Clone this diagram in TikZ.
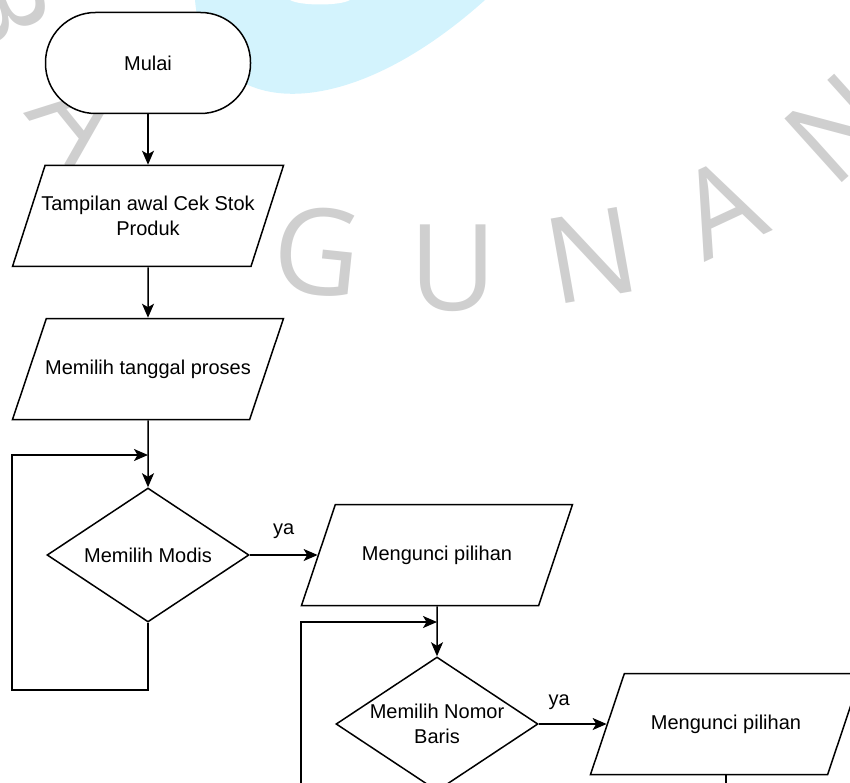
\documentclass[tikz,border=0pt]{standalone}
\usepackage{fontspec}
\setmainfont{Liberation Sans}
\newfontfamily\wmfont{Open Sans}
\usetikzlibrary{shapes.geometric, arrows.meta, positioning}
\definecolor{wmgray}{RGB}{207,207,207}
\definecolor{wmblue}{RGB}{211,243,253}

\begin{document}
\begin{tikzpicture}[x=1pt,y=-1pt,node distance=153pt,on grid,line width=1.5pt,
    font=\fontsize{20}{25}\selectfont]
    \tikzstyle{terminal}=[shape=rectangle,rounded corners=50pt,draw,fill=white,minimum width=205pt,minimum height=101pt]
    \tikzstyle{io}=[shape=trapezium,trapezium left angle=71.4,trapezium right angle=108.6,trapezium stretches body=true,draw,fill=white,minimum width=271pt,minimum height=101pt,inner xsep=-7pt,inner ysep=41pt,align=center]
    \tikzstyle{decision}=[shape=diamond,aspect=1.5,draw,fill=white,minimum width=202pt,minimum height=134pt,inner sep=0pt,align=center]
    \tikzstyle{wm}=[text=wmgray,font=\wmfont\fontsize{120}{120}\selectfont,inner sep=0pt]
    \tikzstyle{flow}=[-{Stealth[length=14pt,width=12pt,inset=3.5pt]}]

    \useasboundingbox (0,0) rectangle (850,783);
    \clip (0,0) rectangle (850,783);

    % watermark
    \fill[wmblue] (195,0) .. controls (205,120) and (340,130) .. (485,0) -- cycle;
    \fill[white] (290,0) .. controls (300,6) and (340,6) .. (350,0) -- cycle;
    \node[wm, rotate=-68] (wB) at (2,6) {B};
    \node[wm, rotate=-51] (wA1) at (81,116) {A};
    \node[wm, rotate=-6] (wG) at (317,251) {G};
    \node[wm] (wU) at (453,268) {U};
    \node[wm, rotate=10] (wN1) at (592,255) {N};
    \node[wm, rotate=25] (wA2) at (721,207) {A};
    \node[wm, rotate=42] (wN2) at (838,128) {N};

    % flowchart
    \node[terminal] (mulai) at (148,63) {Mulai};
    \node[io, inner ysep=28.5pt, below=of mulai] (tampil) {Tampilan awal Cek Stok\\Produk};
    \node[io, below=of tampil] (tanggal) {Memilih tanggal proses};
    \node[decision, below=186pt of tanggal] (modis) {Memilih Modis};
    \node[io, right=289pt of modis] (kunci1) {Mengunci pilihan};
    \node[decision, below=169pt of kunci1] (baris) {Memilih Nomor\\Baris};
    \node[io, right=289pt of baris] (kunci2) {Mengunci pilihan};

    \coordinate (j1) at (148,455);
    \coordinate (lp1) at (12,690);
    \coordinate (j2) at (437,622);
    \coordinate (lp2) at (301,800);
    \coordinate (out2) at (726,800);

    \path[flow, draw]
    (mulai) edge (tampil)
    (tampil) edge (tanggal)
    (tanggal) edge (modis)
    (modis) edge node[above=12pt] {ya} (kunci1)
    (kunci1) edge (baris)
    (baris) edge node[above=10pt, pos=0.3] {ya} (kunci2)
    ;
    \draw[flow] (modis.south) |- (lp1) |- (j1);
    \draw[flow] (lp2) |- (j2);
    \draw (kunci2) -- (out2);
\end{tikzpicture}
\end{document}
